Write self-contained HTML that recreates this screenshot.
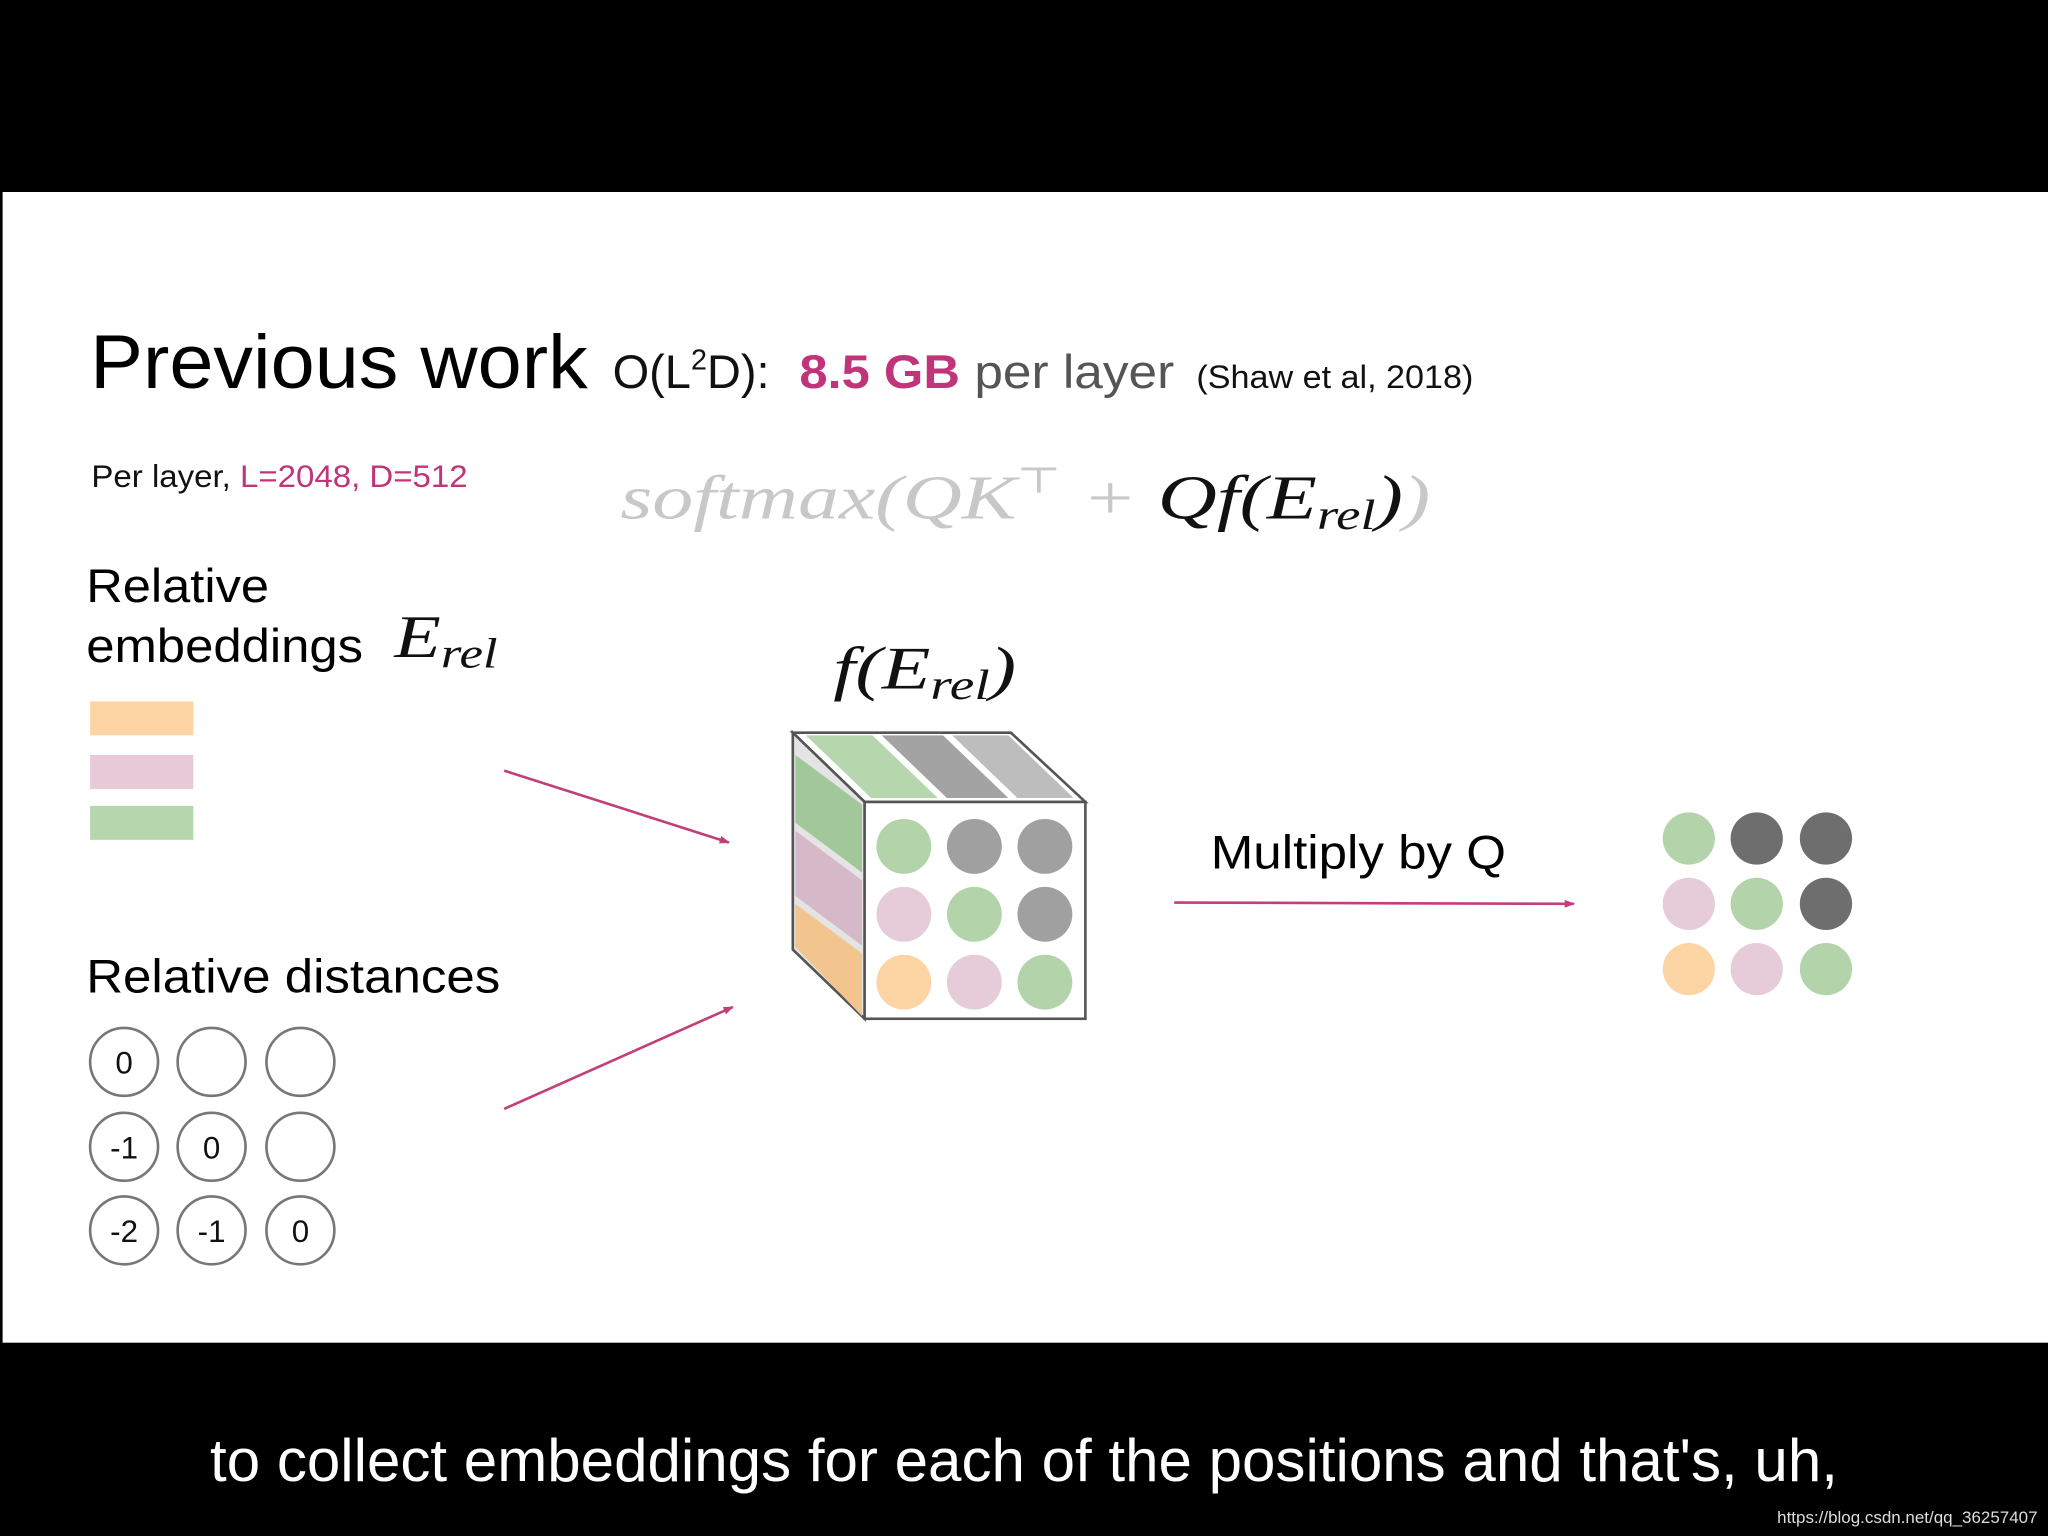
<!DOCTYPE html>
<html><head><meta charset="utf-8"><style>
html,body{margin:0;padding:0;background:#000;}
svg{display:block;}
</style></head><body>
<svg width="2048" height="1536" viewBox="0 0 1568 1176" xmlns="http://www.w3.org/2000/svg">
<defs>
<marker id="ah" markerWidth="8" markerHeight="6" refX="7" refY="3" orient="auto" markerUnits="userSpaceOnUse">
<path d="M0,0 L8,3 L0,6 z" fill="#c2407a"/>
</marker>
</defs>
<rect x="0" y="0" width="1568" height="1176" fill="#000"/>
<rect x="2" y="147" width="1566" height="881" fill="#fff"/>

<g font-family="Liberation Sans, sans-serif">
<text x="69" y="297" font-size="58" fill="#000" textLength="381" lengthAdjust="spacingAndGlyphs">Previous work</text>
<text x="469" y="297" font-size="36" fill="#111">O(L<tspan font-size="22" dy="-14">2</tspan><tspan dy="14">D):</tspan></text>
<text x="612" y="297" font-size="36" fill="#c2347a" font-weight="bold" textLength="123" lengthAdjust="spacingAndGlyphs">8.5 GB</text>
<text x="746" y="297" font-size="36" fill="#555" textLength="153" lengthAdjust="spacingAndGlyphs">per layer</text>
<text x="916" y="297" font-size="25" fill="#111" textLength="212" lengthAdjust="spacingAndGlyphs">(Shaw et al, 2018)</text>
<text x="70" y="373" font-size="24" fill="#111" textLength="288" lengthAdjust="spacingAndGlyphs">Per layer, <tspan fill="#c2347a">L=2048, D=512</tspan></text>
<text x="66" y="461" font-size="36" fill="#000" textLength="140" lengthAdjust="spacingAndGlyphs">Relative</text>
<text x="66" y="507" font-size="36" fill="#000" textLength="212" lengthAdjust="spacingAndGlyphs">embeddings</text>
<text x="66" y="760" font-size="36" fill="#000" textLength="317" lengthAdjust="spacingAndGlyphs">Relative distances</text>
<text x="927" y="665" font-size="36" fill="#000" textLength="226" lengthAdjust="spacingAndGlyphs">Multiply by Q</text>
<text x="784" y="1134" font-size="46" fill="#fff" text-anchor="middle">to collect embeddings for each of the positions and that's, uh,</text>
<text x="1560" y="1166" font-size="13" fill="#ddd" text-anchor="end">https://blog.csdn.net/qq_36257407</text>
</g>

<g font-family="Liberation Serif, DejaVu Serif, serif" font-style="italic">
<text x="475" y="397" font-size="48" fill="#c8c8c8" textLength="620" lengthAdjust="spacingAndGlyphs">softmax(QK<tspan font-size="28" dy="-20" font-style="normal">⊤</tspan><tspan dy="20"> + </tspan><tspan fill="#111">Qf(E<tspan font-size="32" dy="8">rel</tspan><tspan dy="-8">)</tspan></tspan>)</text>
<text x="302" y="503" font-size="46" fill="#111" textLength="79" lengthAdjust="spacingAndGlyphs">E<tspan font-size="32" dy="8">rel</tspan></text>
<text x="638" y="527" font-size="46" fill="#111" textLength="140" lengthAdjust="spacingAndGlyphs">f(E<tspan font-size="32" dy="8">rel</tspan><tspan dy="-8">)</tspan></text>
</g>

<rect x="69" y="537" width="79" height="26" fill="#fdd5a5"/>
<rect x="69" y="578" width="79" height="26" fill="#e8c9d8"/>
<rect x="69" y="617" width="79" height="26" fill="#b6d6ae"/>

<line x1="386" y1="590" x2="558" y2="645" stroke="#c2407a" stroke-width="2" marker-end="url(#ah)"/>
<line x1="386" y1="849" x2="561" y2="771" stroke="#c2407a" stroke-width="2" marker-end="url(#ah)"/>
<line x1="899" y1="691" x2="1205" y2="692" stroke="#c2407a" stroke-width="2" marker-end="url(#ah)"/>

<g fill="#fff" stroke="#777" stroke-width="2">
<circle cx="95" cy="813" r="26"/><circle cx="162" cy="813" r="26"/><circle cx="230" cy="813" r="26"/>
<circle cx="95" cy="878" r="26"/><circle cx="162" cy="878" r="26"/><circle cx="230" cy="878" r="26"/>
<circle cx="95" cy="942" r="26"/><circle cx="162" cy="942" r="26"/><circle cx="230" cy="942" r="26"/>
</g>
<g font-family="Liberation Sans, sans-serif" font-size="24" fill="#111" text-anchor="middle">
<text x="95" y="822">0</text>
<text x="95" y="887">-1</text><text x="162" y="887">0</text>
<text x="95" y="951">-2</text><text x="162" y="951">-1</text><text x="230" y="951">0</text>
</g>

<polygon points="607,561 774,561 831,614 662,614" fill="#fff" stroke="#555" stroke-width="2"/>
<polygon points="617,563 668,563 718,611 667,611" fill="#b6d6ae"/>
<polygon points="675,563 722,563 772,611 725,611" fill="#a3a3a3"/>
<polygon points="729,563 772,563 822,611 779,611" fill="#bdbdbd"/>
<polygon points="607,561 662,614 662,780 607,727" fill="#e4e4e4" stroke="#555" stroke-width="2"/>
<polygon points="609,578 660,616 660,668 609,630" fill="#a2c79a"/>
<polygon points="609,636 660,674 660,724 609,686" fill="#d6b9c8"/>
<polygon points="609,692 660,730 660,778 609,725" fill="#f2c58e"/>
<rect x="662" y="614" width="169" height="166" fill="#fff" stroke="#555" stroke-width="2"/>
<g>
<circle cx="692" cy="648" r="21" fill="#b3d4aa"/><circle cx="746" cy="648" r="21" fill="#a0a0a0"/><circle cx="800" cy="648" r="21" fill="#a0a0a0"/>
<circle cx="692" cy="700" r="21" fill="#e6ccd8"/><circle cx="746" cy="700" r="21" fill="#b3d4aa"/><circle cx="800" cy="700" r="21" fill="#a0a0a0"/>
<circle cx="692" cy="752" r="21" fill="#fdd5a5"/><circle cx="746" cy="752" r="21" fill="#e6ccd8"/><circle cx="800" cy="752" r="21" fill="#b3d4aa"/>
</g>

<g>
<circle cx="1293" cy="642" r="20" fill="#b3d4aa"/><circle cx="1345" cy="642" r="20" fill="#6e6e6e"/><circle cx="1398" cy="642" r="20" fill="#6e6e6e"/>
<circle cx="1293" cy="692" r="20" fill="#e6ccd8"/><circle cx="1345" cy="692" r="20" fill="#b3d4aa"/><circle cx="1398" cy="692" r="20" fill="#6e6e6e"/>
<circle cx="1293" cy="742" r="20" fill="#fdd5a5"/><circle cx="1345" cy="742" r="20" fill="#e6ccd8"/><circle cx="1398" cy="742" r="20" fill="#b3d4aa"/>
</g>
</svg>
</body></html>
